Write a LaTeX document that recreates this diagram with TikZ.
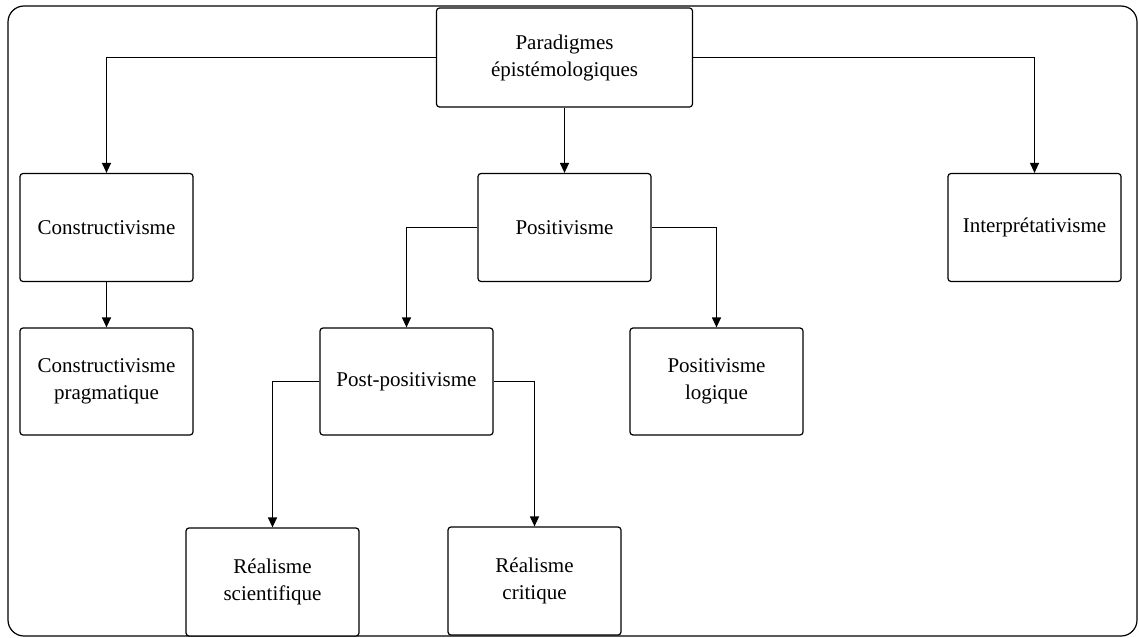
\documentclass[tikz,border=0pt]{standalone}
\usepackage{fontspec}
\setmainfont{Liberation Serif}
\usetikzlibrary{arrows.meta}
\begin{document}
\begin{tikzpicture}[x=1pt,y=-1pt,
  box/.style={draw, line width=1.2pt, rounded corners=3pt, fill=white, rectangle,
    minimum width=173pt, minimum height=108pt, inner sep=0pt, align=center,
    font=\fontsize{21}{27}\selectfont},
  conn/.style={draw, line width=1.2pt, -{Triangle[width=9pt,length=10pt]}}]
\useasboundingbox (0,0) rectangle (1139,637);
\draw[line width=1.2pt, rounded corners=16pt] (8,6) rectangle (1137,636);
\node[box, minimum width=256pt, minimum height=99pt] (par) at (564.5,57.5) {Paradigmes\\épistémologiques};
\node[box] (con) at (106.5,227.5) {Constructivisme};
\node[box] (pos) at (564.5,227.5) {Positivisme};
\node[box] (int) at (1034.5,227.5) {Interprétativisme};
\node[box, minimum height=107pt] (cpr) at (106.5,381.5) {Constructivisme\\pragmatique};
\node[box, minimum height=107pt] (pp) at (406.5,381.5) {Post-positivisme};
\node[box, minimum height=107pt] (pl) at (716.5,381.5) {Positivisme\\logique};
\node[box] (rs) at (272.5,582) {Réalisme\\scientifique};
\node[box] (rc) at (534.5,581) {Réalisme\\critique};
\draw[conn] (par.west) -| (con.north);
\draw[conn] (par.east) -| (int.north);
\draw[conn] (par.south) -- (pos.north);
\draw[conn] (con.south) -- (cpr.north);
\draw[conn] (pos.west) -| (pp.north);
\draw[conn] (pos.east) -| (pl.north);
\draw[conn] (pp.west) -| (rs.north);
\draw[conn] (pp.east) -| (rc.north);
\end{tikzpicture}
\end{document}
